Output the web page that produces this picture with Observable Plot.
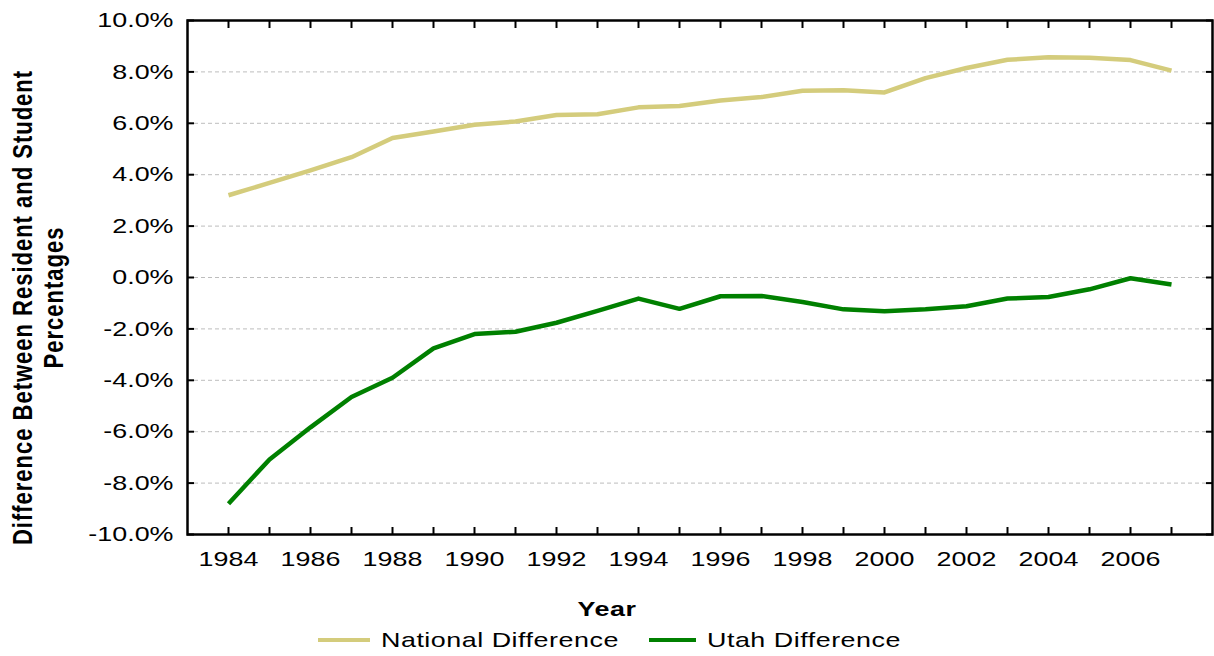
<!DOCTYPE html>
<html>
<head>
<meta charset="utf-8">
<script src="https://cdn.jsdelivr.net/npm/d3@7"></script>
<script src="https://cdn.jsdelivr.net/npm/@observablehq/plot@0.6"></script>
<style>
  html, body { margin: 0; padding: 0; background: #fff; }
  #wrap { position: relative; width: 1214px; height: 656px; font-family: "Liberation Sans", Arial, sans-serif; color: #000; }
  #xtitle { position: absolute; left: 0; width: 1214px; top: 597px; height: 24px; line-height: 24px; text-align: center; font-weight: bold; font-size: 21px; }
  #xtitle span { display: inline-block; transform: scaleX(1.28); transform-origin: center; letter-spacing: 0.4px; }
  #legend { position: absolute; left: 0; top: 628px; height: 24px; width: 1214px; font-size: 21px; }
  .item { position: absolute; top: 0; height: 24px; line-height: 24px; white-space: nowrap; transform: scaleX(1.28); transform-origin: left center; letter-spacing: 0.4px; }
  .sw { position: absolute; top: 10px; height: 4px; }
</style>
</head>
<body>
<div id="wrap">
  <div id="chart"></div>
  <div id="xtitle"><span></span></div>
  <div id="legend"></div>
</div>
<script>
// ---- data ----
const years = [1984,1985,1986,1987,1988,1989,1990,1991,1992,1993,1994,1995,1996,1997,1998,1999,2000,2001,2002,2003,2004,2005,2006,2007];
const nationalDiff = [3.20,3.68,4.17,4.68,5.43,5.68,5.94,6.07,6.32,6.35,6.62,6.67,6.89,7.02,7.27,7.29,7.20,7.76,8.15,8.47,8.57,8.55,8.46,8.05];
const utahDiff = [-8.80,-7.08,-5.83,-4.65,-3.90,-2.76,-2.20,-2.11,-1.76,-1.30,-0.82,-1.22,-0.73,-0.72,-0.95,-1.24,-1.31,-1.24,-1.12,-0.82,-0.76,-0.46,-0.03,-0.27];
const seriesNames = ["National Difference", "Utah Difference"];
const seriesColors = ["#d4cc7c", "#008000"];
const yTicks = [-10,-8,-6,-4,-2,0,2,4,6,8,10];
const xLabelTicks = [1984,1986,1988,1990,1992,1994,1996,1998,2000,2002,2004,2006];
const xTitle = "Year";
const yTitleLines = ["Difference Between Resident and Student", "Percentages"];

// ---- table ----
const rows = years.flatMap((yr, i) => [
  {year: yr, value: nationalDiff[i], series: seriesNames[0]},
  {year: yr, value: utahDiff[i], series: seriesNames[1]}
]);
const gridTicks = yTicks.filter(d => Math.abs(d) < 10);
const blank = () => "";

const chart = Plot.plot({
  width: 1214,
  height: 580,
  marginLeft: 187,
  marginRight: 2,
  marginTop: 20,
  marginBottom: 46,
  style: {fontFamily: "'Liberation Sans', Arial, sans-serif", fontSize: "21px", background: "#fff", color: "#000", overflow: "visible"},
  x: {domain: [1983, 2008]},
  y: {domain: [-10, 10]},
  color: {domain: seriesNames, range: seriesColors},
  marks: [
    Plot.gridY(gridTicks, {stroke: "#bdbdbd", strokeOpacity: 1, strokeWidth: 1, strokeDasharray: "4,3"}),
    Plot.line(rows, {x: "year", y: "value", z: "series", stroke: "series", strokeWidth: 4.5, strokeLinejoin: "round", strokeLinecap: "butt"}),
    Plot.frame({stroke: "#000", strokeWidth: 2.5}),
    Plot.axisX(years, {anchor: "bottom", tickSize: -7, tickFormat: blank, label: null, strokeWidth: 2}),
    Plot.axisX(years, {anchor: "top", tickSize: -7, tickFormat: blank, label: null, strokeWidth: 2}),
    Plot.axisX(xLabelTicks, {anchor: "bottom", tickSize: 0, tickPadding: 17, tickFormat: d => String(d), label: null, ariaLabel: "xlabels"}),
    Plot.axisY(yTicks, {anchor: "left", tickSize: -7, tickFormat: blank, label: null, strokeWidth: 2}),
    Plot.axisY(yTicks, {anchor: "right", tickSize: -7, tickFormat: blank, label: null, strokeWidth: 2}),
    Plot.axisY(yTicks, {anchor: "left", tickSize: 0, tickPadding: 14, tickFormat: d => d.toFixed(1) + "%", label: null, ariaLabel: "ylabels"}),
    Plot.text([yTitleLines[0]], {text: d => d, frameAnchor: "left", textAnchor: "middle", rotate: -90, dx: -165, dy: 30, fontWeight: "bold", fontSize: 22, fill: "#000", ariaLabel: "ytitle"}),
    Plot.text([yTitleLines[1]], {text: d => d, frameAnchor: "left", textAnchor: "middle", rotate: -90, dx: -134, dy: 20, fontWeight: "bold", fontSize: 22, fill: "#000", ariaLabel: "ytitle"})
  ]
});
document.getElementById("chart").appendChild(chart);

// the original's text is rendered horizontally widened; mimic with a scale on each label
const svg = d3.select(chart);
svg.selectAll("text").each(function() {
  const t = d3.select(this);
  if (!t.text()) return;
  const tr = t.attr("transform") || "";
  if (/rotate/.test(tr)) {
    t.attr("transform", tr + " scale(1,1.28)").style("letter-spacing", "1px");
  } else {
    t.attr("transform", tr + " scale(1.28,1)");
  }
});

document.querySelector("#xtitle span").textContent = xTitle;

// legend
const legend = d3.select("#legend");
const legendLayout = [{sw: 318, swW: 52, tx: 381}, {sw: 649, swW: 47, tx: 707}];
seriesNames.forEach((name, i) => {
  legend.append("div").attr("class", "sw")
    .style("left", legendLayout[i].sw + "px").style("width", legendLayout[i].swW + "px")
    .style("background", seriesColors[i]);
  legend.append("div").attr("class", "item")
    .style("left", legendLayout[i].tx + "px").text(name);
});
</script>
</body>
</html>
